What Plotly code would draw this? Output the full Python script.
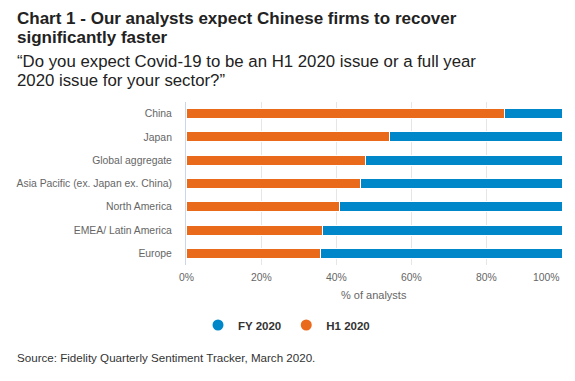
import plotly.graph_objects as go

categories = ["China", "Japan", "Global aggregate", "Asia Pacific (ex. Japan ex. China)",
              "North America", "EMEA/ Latin America", "Europe"]
h1_2020 = [84.7, 54.2, 47.7, 46.4, 40.9, 36.2, 35.9]
fy_2020 = [15.3, 45.8, 52.3, 53.6, 59.1, 63.8, 64.1]
tick_values = [0, 20, 40, 60, 80, 100]
tick_labels = ["0%", "20%", "40%", "60%", "80%", "100%"]

ORANGE = "#EA6A1B"
BLUE = "#0087C9"
FONT = "Liberation Sans, Arial, sans-serif"

# the page body has an 8px default margin; lay out in window pixels and compensate
OFF = 8
WIN_W, WIN_H = 575, 381
W, H = WIN_W - OFF, WIN_H - OFF
PLOT_LEFT, PLOT_RIGHT, PLOT_TOP, PLOT_BOTTOM = 186, 562, 101.5, 265
L = PLOT_LEFT - OFF
R = W - (PLOT_RIGHT - OFF)
T = PLOT_TOP - OFF
B = H - (PLOT_BOTTOM - OFF)
PH = PLOT_BOTTOM - PLOT_TOP
PW = PLOT_RIGHT - PLOT_LEFT


def py(px):
    return (PLOT_BOTTOM - px) / PH


def pxx(px):
    return (px - PLOT_LEFT) / PW


fig = go.Figure()
fig.add_trace(go.Bar(y=categories, x=h1_2020, orientation="h", name="H1 2020",
                     marker=dict(color=ORANGE, line=dict(color="white", width=1)),
                     showlegend=False))
fig.add_trace(go.Bar(y=categories, x=fy_2020, orientation="h", name="FY 2020",
                     marker=dict(color=BLUE, line=dict(color="white", width=1)),
                     showlegend=False))
# legend entries with circle symbols
fig.add_trace(go.Scatter(x=[None], y=[None], mode="markers", name="FY 2020",
                         marker=dict(color=BLUE, size=11, symbol="circle")))
fig.add_trace(go.Scatter(x=[None], y=[None], mode="markers", name="H1 2020",
                         marker=dict(color=ORANGE, size=11, symbol="circle")))

AX_FS = 10.4
annotations = []
for v, t in zip(tick_values, tick_labels):
    annotations.append(dict(x=v, xref="x", y=py(278), yref="paper", text=t,
                            showarrow=False, xanchor="right" if v == tick_values[-1] else "center",
                            yanchor="middle", font=dict(family=FONT, size=AX_FS, color="#666666")))
annotations.append(dict(x=0.5, xref="paper", y=py(295), yref="paper", text="% of analysts",
                        showarrow=False, xanchor="center", yanchor="middle",
                        font=dict(family=FONT, size=11, color="#666666")))
title_lines = [("<b>Chart 1 - Our analysts expect Chinese firms to recover</b>", 18.2),
               ("<b>significantly faster</b>", 37.0)]
sub_lines = [("\u201cDo you expect Covid-19 to be an H1 2020 issue or a full year", 60.8),
             ("2020 issue for your sector?\u201d", 80.2)]
for txt, yc in title_lines:
    annotations.append(dict(x=pxx(15), xref="paper", y=py(yc), yref="paper", text=txt,
                            showarrow=False, xanchor="left", yanchor="middle",
                            font=dict(family=FONT, size=17, color="#222222")))
for txt, yc in sub_lines:
    annotations.append(dict(x=pxx(15), xref="paper", y=py(yc), yref="paper", text=txt,
                            showarrow=False, xanchor="left", yanchor="middle",
                            font=dict(family=FONT, size=16.8, color="#222222")))
annotations.append(dict(x=pxx(15), xref="paper", y=py(357.7), yref="paper",
                        text="Source: Fidelity Quarterly Sentiment Tracker, March 2020.",
                        showarrow=False, xanchor="left", yanchor="middle",
                        font=dict(family=FONT, size=11.6, color="#333333")))

fig.update_layout(
    width=W, height=H,
    margin=dict(l=L, r=R, t=T, b=B, pad=0),
    barmode="stack", bargap=0.57,
    paper_bgcolor="white", plot_bgcolor="white",
    font=dict(family=FONT),
    xaxis=dict(range=[0, 100], tickvals=tick_values, showticklabels=False,
               showgrid=True, gridcolor="#e6e6e6", gridwidth=1, zeroline=False,
               showline=False, fixedrange=True, automargin=False),
    yaxis=dict(autorange="reversed", showline=True, linecolor="#ccd6eb", linewidth=1,
               ticks="", ticklabelstandoff=11, automargin=False,
               tickfont=dict(family=FONT, size=AX_FS, color="#666666"), showgrid=False),
    legend=dict(orientation="h", xref="container", yref="container",
                x=(WIN_W / 2 - 1 - OFF) / W, y=1 - (325 - OFF) / H,
                xanchor="center", yanchor="middle", traceorder="normal",
                font=dict(family=FONT, size=11.5, color="#333333", weight="bold"),
                itemwidth=30),
    annotations=annotations,
)

fig.write_html("out.html")
